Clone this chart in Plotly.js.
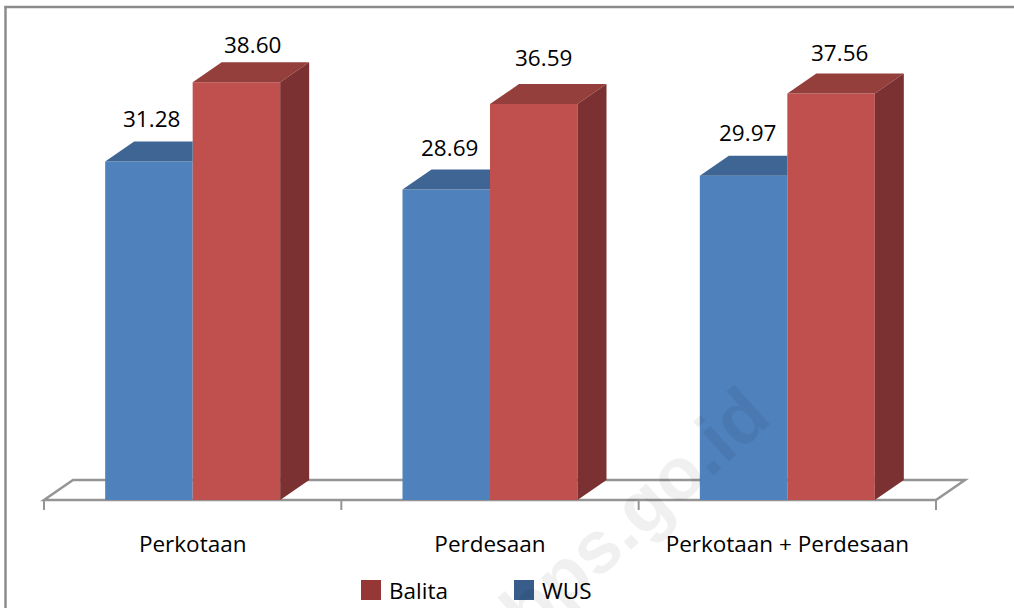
<!DOCTYPE html>
<html>
<head>
<meta charset="utf-8">
<script src="https://cdn.plot.ly/plotly-3.0.1.min.js"></script>
<style>
  html, body { margin: 0; padding: 0; background: #ffffff; }
  #chart { width: 1014px; height: 608px; }
</style>
</head>
<body>
<div id="chart"></div>
<script>
// Prevalence by area type
const categories = ['Perkotaan', 'Perdesaan', 'Perkotaan + Perdesaan'];
const wusValues = [31.28, 28.69, 29.97];
const balitaValues = [38.60, 36.59, 37.56];
const seriesNames = ['WUS', 'Balita'];

// ---- geometry of the pseudo-3D view (pixels) ----
const W = 1014, H = 608;
const PX_PER_CAT = 297.33;      // horizontal pixels per category
const CAT_EDGE_PX = 44;         // pixel of the left edge of the first category
const PX_PER_UNIT = 10.82;      // vertical pixels per value unit
const ZERO_PX = 500;            // pixel row of the value 0 (front floor edge)
const PLOT = { left: 38, right: 972, top: 14, bottom: 514 };
const DEPTH_PX = { dx: 29, dy: 20 };

const dX = DEPTH_PX.dx / PX_PER_CAT;
const dY = DEPTH_PX.dy / PX_PER_UNIT;
const groupFrac = 175 / PX_PER_CAT;          // share of a category used by the pair of bars
const barW = groupFrac / 2;

const xRange = [-0.5 - (CAT_EDGE_PX - PLOT.left) / PX_PER_CAT,
                -0.5 + (PLOT.right - CAT_EDGE_PX) / PX_PER_CAT];
const yRange = [-(PLOT.bottom - ZERO_PX) / PX_PER_UNIT,
                (ZERO_PX - PLOT.top) / PX_PER_UNIT];

// pixel -> paper helpers for decorations outside the plot area
const px2paperX = p => (p - PLOT.left) / (PLOT.right - PLOT.left);
const px2paperY = p => (PLOT.bottom - p) / (PLOT.bottom - PLOT.top);

const colors = {
  wusFront: '#4F81BD', wusTop: '#3E6593', wusLegend: '#385D8A',
  balitaFront: '#C0504D', balitaTop: '#953F3C', balitaSide: '#7B3131', balitaLegend: '#953735',
  floor: '#959595', frame: '#8C8C8C'
};

const idx = categories.map((_, i) => i);

// front faces
const traces = [
  { type: 'bar', name: seriesNames[0], x: idx, y: wusValues,
    marker: { color: colors.wusFront, line: { width: 0 } }, hoverinfo: 'x+y', showlegend: false },
  { type: 'bar', name: seriesNames[1], x: idx, y: balitaValues,
    marker: { color: colors.balitaFront, line: { width: 0 } }, hoverinfo: 'x+y', showlegend: false }
];

// top and side faces, built from the same values
function polyTrace(color, builder) {
  const xs = [], ys = [];
  idx.forEach(i => {
    const pts = builder(i);
    pts.forEach(p => { xs.push(p[0]); ys.push(p[1]); });
    xs.push(pts[0][0]); ys.push(pts[0][1]);
    xs.push(null); ys.push(null);
  });
  return { type: 'scatter', mode: 'lines', x: xs, y: ys, fill: 'toself',
           fillcolor: color, line: { width: 0, color: color },
           hoverinfo: 'skip', showlegend: false };
}

traces.push(polyTrace(colors.wusTop, i => {
  const v = wusValues[i], xl = i - barW, xm = i;
  return [[xl, v], [xl + dX, v + dY], [xm, v + dY], [xm, v]];
}));
traces.push(polyTrace(colors.balitaTop, i => {
  const v = balitaValues[i], xm = i, xr = i + barW;
  return [[xm, v], [xm + dX, v + dY], [xr + dX, v + dY], [xr, v]];
}));
traces.push(polyTrace(colors.balitaSide, i => {
  const v = balitaValues[i], xr = i + barW;
  return [[xr, 0], [xr + dX, dY], [xr + dX, v + dY], [xr, v]];
}));

// floor outline and category dividers
const n = categories.length;
const shapes = [
  { type: 'path', layer: 'below', xref: 'x', yref: 'y',
    path: `M${-0.5},0 L${n - 0.5},0 L${n - 0.5 + dX},${dY} L${-0.5 + dX},${dY} Z`,
    line: { color: colors.floor, width: 2.5 }, fillcolor: 'rgba(0,0,0,0)' }
];
for (let k = 0; k <= n; k++) {
  shapes.push({ type: 'line', layer: 'below', xref: 'x', yref: 'y',
    x0: k - 0.5, x1: k - 0.5, y0: 0, y1: -10 / PX_PER_UNIT,
    line: { color: colors.floor, width: 2 } });
}

// outer frame (left and top edges)
shapes.push({ type: 'line', xref: 'paper', yref: 'paper',
  x0: px2paperX(5.5), x1: px2paperX(5.5), y0: px2paperY(6), y1: px2paperY(H + 2),
  line: { color: colors.frame, width: 2.5 } });
shapes.push({ type: 'line', xref: 'paper', yref: 'paper',
  x0: px2paperX(4.5), x1: px2paperX(W + 2), y0: px2paperY(7), y1: px2paperY(7),
  line: { color: colors.frame, width: 2.5 } });

// legend swatches
const legendItems = [
  { name: seriesNames[1], color: colors.balitaLegend, left: 361 },
  { name: seriesNames[0], color: colors.wusLegend, left: 514 }
];
legendItems.forEach(item => {
  shapes.push({ type: 'rect', xref: 'paper', yref: 'paper',
    x0: px2paperX(item.left), x1: px2paperX(item.left + 20),
    y0: px2paperY(600), y1: px2paperY(580),
    fillcolor: item.color, line: { width: 0 } });
});

const labelFont = { family: 'Open Sans, sans-serif', size: 22.5, color: '#000000' };

// value labels above the bars
const labelNudge = [[[-4.5, 1.5], [9, -4.5]], [[-3.5, 0], [3, 4.5]], [[-3, 1.5], [1.5, -1]]];
const annotations = [];
idx.forEach(i => {
  [[wusValues[i], i - barW / 2], [balitaValues[i], i + barW / 2]].forEach((pair, s) => {
    annotations.push({
      x: pair[1], y: pair[0], xref: 'x', yref: 'y',
      text: pair[0].toFixed(2), showarrow: false,
      xanchor: 'center', yanchor: 'middle',
      xshift: 7 + labelNudge[i][s][0], yshift: 42 + labelNudge[i][s][1],
      font: labelFont
    });
  });
});

legendItems.forEach(item => {
  annotations.push({
    x: px2paperX(item.left + 26), y: px2paperY(590), xref: 'paper', yref: 'paper',
    text: item.name, showarrow: false, xanchor: 'left', yanchor: 'middle',
    font: labelFont
  });
});

// faint site watermark
annotations.push({
  x: px2paperX(634), y: px2paperY(512), xref: 'paper', yref: 'paper',
  xanchor: 'center', yanchor: 'middle',
  text: '<b>bps.go.id</b>', showarrow: false, textangle: -42,
  font: { family: 'Liberation Sans, Arial, sans-serif', size: 74, color: 'rgba(0,0,0,0.06)' }
});

const layout = {
  width: W, height: H,
  margin: { l: PLOT.left, r: W - PLOT.right, t: PLOT.top, b: H - PLOT.bottom, pad: 0 },
  paper_bgcolor: '#ffffff', plot_bgcolor: 'rgba(0,0,0,0)',
  barmode: 'group', bargap: 1 - groupFrac, bargroupgap: 0,
  showlegend: false,
  xaxis: {
    range: xRange, tickmode: 'array', tickvals: idx, ticktext: categories,
    ticks: '', showgrid: false, zeroline: false, showline: false,
    tickfont: labelFont, ticklabelstandoff: 14, fixedrange: true
  },
  yaxis: {
    range: yRange, showgrid: false, zeroline: false, showline: false,
    showticklabels: false, ticks: '', fixedrange: true
  },
  shapes: shapes,
  annotations: annotations,
  font: labelFont
};

Plotly.newPlot('chart', traces, layout, { displayModeBar: false, staticPlot: true });
</script>
</body>
</html>
